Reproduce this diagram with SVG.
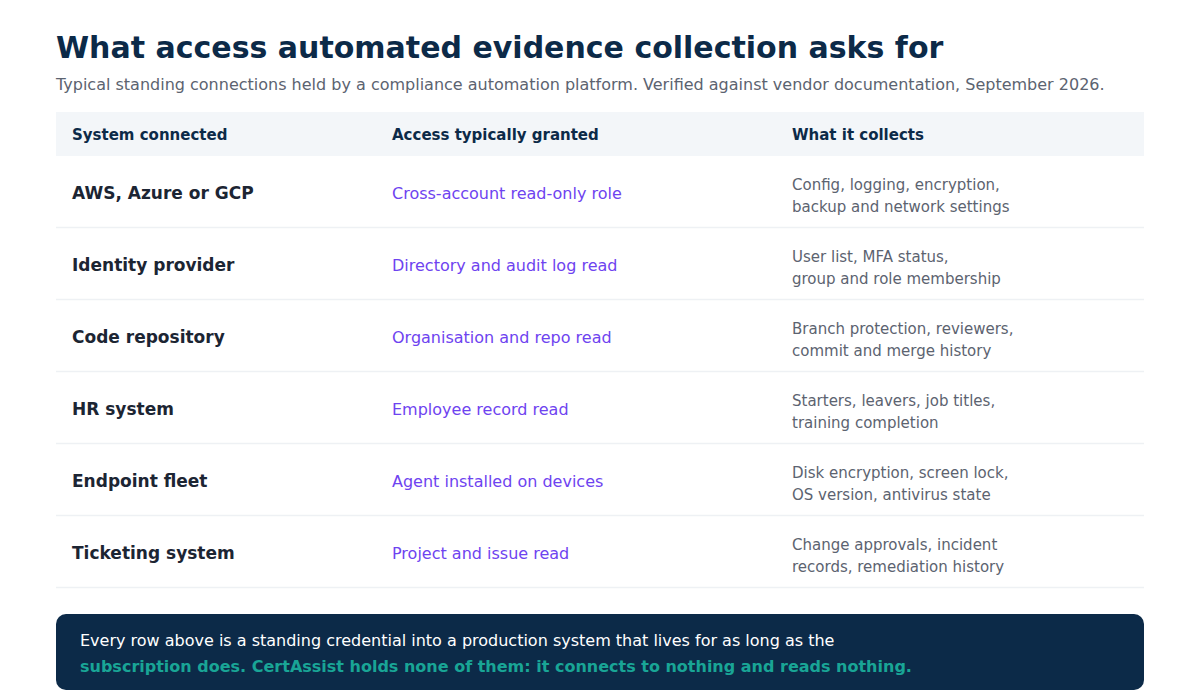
<svg xmlns="http://www.w3.org/2000/svg" width="1200" height="700" viewBox="0 0 1200 700">
<style>
text{font-family:"DejaVu Sans",sans-serif}
.t{font-size:30px;font-weight:bold;fill:#0c2a48}
.s{font-size:16px;fill:#5c6370}
.h{font-size:15px;font-weight:bold;fill:#0c2a48}
.n{font-size:17px;font-weight:bold;fill:#1c2533}
.a{font-size:16px;fill:#6e43f0}
.c{font-size:15px;fill:#5c6370}
.d{stroke:#eef1f4;stroke-width:1.5}
.f1{font-size:16px;fill:#ffffff}
.f2{font-size:16px;font-weight:bold;fill:#19a596}
</style>
<rect width="1200" height="700" fill="#fff"/>
<text class="t" x="56" y="58">What access automated evidence collection asks for</text>
<text class="s" x="56" y="90">Typical standing connections held by a compliance automation platform. Verified against vendor documentation, September 2026.</text>
<g id="header">
<rect x="56" y="112" width="1088" height="44" fill="#f3f6f9"/>
<text class="h" x="72" y="140">System connected</text>
<text class="h" x="392" y="140">Access typically granted</text>
<text class="h" x="792" y="140">What it collects</text>
</g>
<g id="connectors">
<line class="d" x1="56" y1="227.5" x2="1144" y2="227.5"/>
<line class="d" x1="56" y1="299.5" x2="1144" y2="299.5"/>
<line class="d" x1="56" y1="371.5" x2="1144" y2="371.5"/>
<line class="d" x1="56" y1="443.5" x2="1144" y2="443.5"/>
<line class="d" x1="56" y1="515.5" x2="1144" y2="515.5"/>
<line class="d" x1="56" y1="587.5" x2="1144" y2="587.5"/>
</g>
<g id="row1"><text class="n" x="72" y="199">AWS, Azure or GCP</text><text class="a" x="392" y="199">Cross-account read-only role</text><text class="c" x="792" y="190">Config, logging, encryption,</text><text class="c" x="792" y="212">backup and network settings</text></g>
<g id="row2"><text class="n" x="72" y="271">Identity provider</text><text class="a" x="392" y="271">Directory and audit log read</text><text class="c" x="792" y="262">User list, MFA status,</text><text class="c" x="792" y="284">group and role membership</text></g>
<g id="row3"><text class="n" x="72" y="343">Code repository</text><text class="a" x="392" y="343">Organisation and repo read</text><text class="c" x="792" y="334">Branch protection, reviewers,</text><text class="c" x="792" y="356">commit and merge history</text></g>
<g id="row4"><text class="n" x="72" y="415">HR system</text><text class="a" x="392" y="415">Employee record read</text><text class="c" x="792" y="406">Starters, leavers, job titles,</text><text class="c" x="792" y="428">training completion</text></g>
<g id="row5"><text class="n" x="72" y="487">Endpoint fleet</text><text class="a" x="392" y="487">Agent installed on devices</text><text class="c" x="792" y="478">Disk encryption, screen lock,</text><text class="c" x="792" y="500">OS version, antivirus state</text></g>
<g id="row6"><text class="n" x="72" y="559">Ticketing system</text><text class="a" x="392" y="559">Project and issue read</text><text class="c" x="792" y="550">Change approvals, incident</text><text class="c" x="792" y="572">records, remediation history</text></g>
<g id="footer">
<rect x="56" y="614" width="1088" height="76" rx="10" fill="#0c2a48"/>
<text class="f1" x="80" y="646">Every row above is a standing credential into a production system that lives for as long as the</text>
<text class="f2" x="80" y="672">subscription does. CertAssist holds none of them: it connects to nothing and reads nothing.</text>
</g>
</svg>
